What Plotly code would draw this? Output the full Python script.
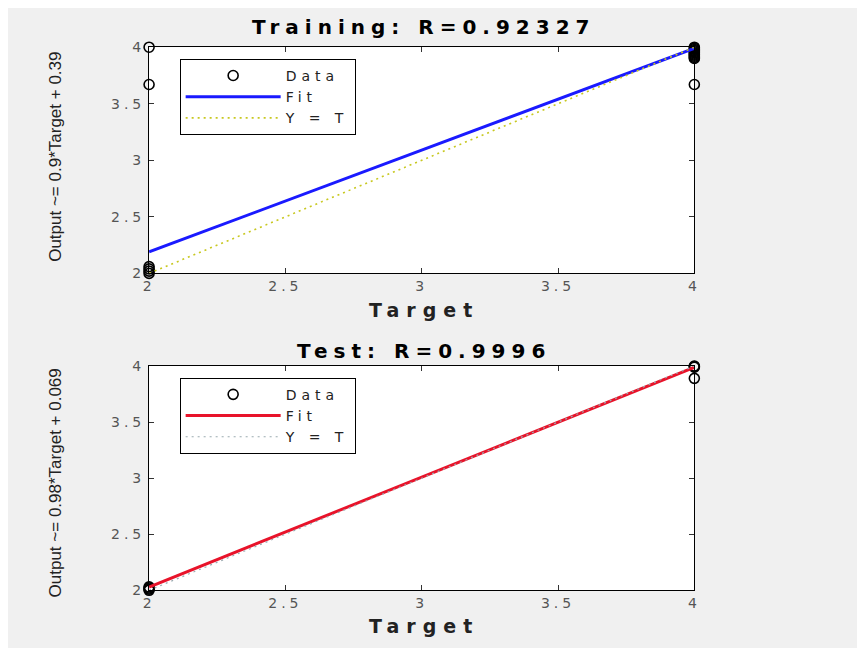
import plotly.graph_objects as go

# ---- data ----
train_target = [2, 2, 2, 2, 2, 2, 4, 4, 4, 4, 4, 4, 4, 4, 4, 4, 4, 4]
train_output = [2.00, 2.02, 2.04, 2.06, 3.67, 4.00,
                4.00, 3.99, 3.98, 3.97, 3.96, 3.95, 3.94, 3.93, 3.92, 3.91, 3.90, 3.67]
train_fit_x = [2, 4]
train_fit_y = [2.19, 3.99]

test_target = [2, 2, 2, 2, 4, 4, 4, 4]
test_output = [2.00, 2.01, 2.02, 2.03, 4.00, 3.995, 3.99, 3.89]
test_fit_x = [2, 4]
test_fit_y = [2.029, 3.989]

ident_x = [2, 4]
ident_y = [2, 4]

tick_vals = [2, 2.5, 3, 3.5, 4]
tick_text = ["2", "2.5", "3", "3.5", "4"]

train_title = "Training: R=0.92327"
test_title = "Test: R=0.9996"
train_ylabel = "Output ~= 0.9*Target + 0.39"
test_ylabel = "Output ~= 0.98*Target + 0.069"
xlabel = "Target"
legend_names = ["Data", "Fit", "Y = T"]

W, H = 857, 640
OX, OY = 8, 8  # page offset of the figure in the screenshot


def px(x):
    return (x - OX) / W


def py(y):
    return 1 - (y - OY) / H


def wide(s, sp):
    return '<span style="letter-spacing:%dpx">%s</span>' % (sp, s)


fig = go.Figure()

marker_style = dict(symbol="circle-open", size=10, color="black", line=dict(width=1.6))

# top panel
fig.add_trace(go.Scatter(x=train_target, y=train_output, mode="markers", name=wide(legend_names[0], 5),
                         marker=marker_style, xaxis="x", yaxis="y", legend="legend", cliponaxis=False))
fig.add_trace(go.Scatter(x=train_fit_x, y=train_fit_y, mode="lines", name=wide(legend_names[1], 5),
                         line=dict(color="#1a1aff", width=3), xaxis="x", yaxis="y", legend="legend"))
fig.add_trace(go.Scatter(x=ident_x, y=ident_y, mode="lines", name=wide(legend_names[2], 5),
                         line=dict(color="#c8c820", width=1.6, dash="2px,4px"), xaxis="x", yaxis="y", legend="legend"))

# bottom panel
fig.add_trace(go.Scatter(x=test_target, y=test_output, mode="markers", name=wide(legend_names[0], 5),
                         marker=marker_style, xaxis="x2", yaxis="y2", legend="legend2", cliponaxis=False))
fig.add_trace(go.Scatter(x=test_fit_x, y=test_fit_y, mode="lines", name=wide(legend_names[1], 5),
                         line=dict(color="#e8132a", width=3), xaxis="x2", yaxis="y2", legend="legend2"))
fig.add_trace(go.Scatter(x=ident_x, y=ident_y, mode="lines", name=wide(legend_names[2], 5),
                         line=dict(color="#9aaab0", width=1.2, dash="2px,4px"), xaxis="x2", yaxis="y2", legend="legend2"))

axis_common = dict(range=[2, 4], tickvals=tick_vals, ticktext=[wide(t, 4) for t in tick_text],
                   ticks="inside", ticklen=5,
                   tickcolor="#333", showline=True, linecolor="black", linewidth=1, mirror="ticks",
                   showgrid=False, zeroline=False,
                   tickfont=dict(family="DejaVu Sans, Verdana, sans-serif", size=14, color="#555"))

legend_common = dict(xanchor="left", yanchor="top", bgcolor="white",
                     bordercolor="black", borderwidth=1, itemwidth=95,
                     font=dict(family="DejaVu Sans, Verdana, sans-serif", size=14, color="#222"),
                     tracegroupgap=0)

xd = [px(145), px(698)]
fig.update_layout(
    width=W, height=H,
    margin=dict(l=0, r=0, t=0, b=0),
    paper_bgcolor="#f0f0f0", plot_bgcolor="white",
    xaxis=dict(domain=xd, anchor="y", **axis_common),
    yaxis=dict(domain=[py(272), py(40)], anchor="x", **axis_common),
    xaxis2=dict(domain=xd, anchor="y2", **axis_common),
    yaxis2=dict(domain=[py(597), py(367)], anchor="x2", **axis_common),
    legend=dict(x=px(176), y=py(52), **legend_common),
    legend2=dict(x=px(176), y=py(379), **legend_common),
    showlegend=True,
)

title_font = dict(family="DejaVu Sans, Verdana, sans-serif", size=20, color="black")
label_font = dict(family="DejaVu Sans, Verdana, sans-serif", size=19, color="#222")
ylab_font = dict(family="Liberation Sans, Arial, sans-serif", size=17, color="#222")
anns = [
    dict(text="<b>" + wide(train_title, 6) + "</b>", x=px(424), y=py(19), font=title_font),
    dict(text="<b>" + wide(test_title, 6) + "</b>", x=px(424), y=py(352), font=title_font),
    dict(text="<b>" + wide(xlabel, 7) + "</b>", x=px(424), y=py(310), font=label_font),
    dict(text="<b>" + wide(xlabel, 7) + "</b>", x=px(424), y=py(634), font=label_font),
    dict(text=train_ylabel, x=px(50), y=py(152), textangle=-90, font=ylab_font),
    dict(text=test_ylabel, x=px(50), y=py(487), textangle=-90, font=ylab_font),
]
for a in anns:
    a.update(xref="paper", yref="paper", showarrow=False, xanchor="center", yanchor="middle")
fig.update_layout(annotations=anns)

fig.write_html("out.html")
